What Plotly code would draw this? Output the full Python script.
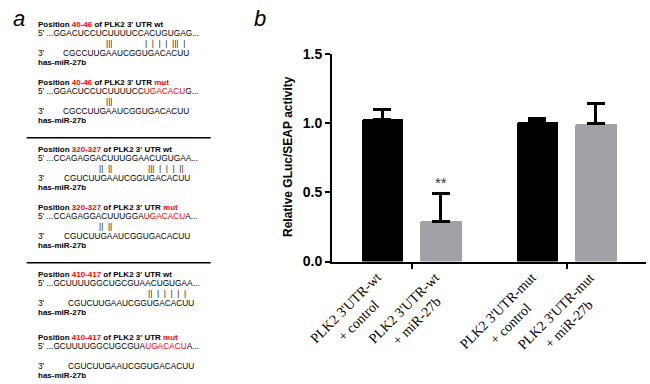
import plotly.graph_objects as go

# ---------------- data (panel b) ----------------
groups = ["wt", "mut"]
conditions = ["control", "miR-27b"]
control_labels = ["PLK2 3'UTR-wt<br>+ control", "PLK2 3'UTR-mut<br>+ control"]
mir_labels = ["PLK2 3'UTR-wt<br>+ miR-27b", "PLK2 3'UTR-mut<br>+ miR-27b"]
control_values = [1.03, 1.01]
control_errors = [0.07, 0.025]
mir_values = [0.29, 0.995]
mir_errors = [0.20, 0.148]
significance = ["**", ""]          # marks above the miR-27b bars
y_ticks = [0.0, 0.5, 1.0, 1.5]

# ---------------- data (panel a) ----------------
positions = ["40-46", "320-327", "410-417"]
wt_sequences = ["GGACUCCUCUUUUCCACUGUGAG", "CCAGAGGACUUUGGAACUGUGAA", "GCUUUUGGCUGCGUAACUGUGAA"]
mut_prefix = ["GGACUCCUCUUUUCC", "CCAGAGGACUUUGGA", "GCUUUUGGCUGCGUA"]
mut_site = ["UGACACU", "UGACACU", "UGACACU"]
mut_suffix = ["G", "A", "A"]
mir_sequences = ["CGCCUUGAAUCGGUGACACUU", "CGUCUUGAAUCGGUGACACUU", "CGUCUUGAAUCGGUGACACUU"]
wt_pairs = [["|||", "|  |  |  |  |||  |"], ["||  ||", "|||  |  |  |  ||"], ["", "||  |  |  |  |  |"]]
mut_pairs = [["|||", ""], ["||  ||", ""], ["", ""]]
mir_name = "has-miR-27b"

# ---------------- layout helpers ----------------
W, H = 650, 384
def px(x):
    return x / W
def py(y):
    return 1 - y / H

FONT = "Arial, Liberation Sans, sans-serif"
SERIF = "Times New Roman, Liberation Serif, serif"
RED = "#ff0000"

fig = go.Figure()

offset = 0.1887
bar_w = 0.268
x_ctrl = [i - offset for i in range(len(groups))]
x_mir = [i + offset for i in range(len(groups))]

fig.add_bar(x=x_ctrl, y=control_values, width=bar_w, name=conditions[0],
            marker=dict(color="#000000", line=dict(width=0), cornerradius=2),
            error_y=dict(type="data", symmetric=False, array=control_errors,
                         arrayminus=[0] * len(control_errors),
                         color="black", thickness=3, width=9))
fig.add_bar(x=x_mir, y=mir_values, width=bar_w, name=conditions[1],
            marker=dict(color="#a2a2a6", line=dict(width=0), cornerradius=2),
            error_y=dict(type="data", symmetric=False, array=mir_errors,
                         arrayminus=[0] * len(mir_errors),
                         color="black", thickness=3, width=9))

annotations = []
for xv, v, e, s in zip(x_mir, mir_values, mir_errors, significance):
    if s:
        annotations.append(dict(x=xv, y=v + e, xref="x", yref="y", text=s,
                                showarrow=False, yanchor="bottom", yshift=1,
                                font=dict(family=FONT, size=15, color="#333333")))

# rotated category labels under each bar
for xs, labs in [(x_ctrl, control_labels), (x_mir, mir_labels)]:
    for xv, lab in zip(xs, labs):
        annotations.append(dict(x=xv, y=0, xref="x", yref="y", text=lab, textangle=-45,
                                showarrow=False, xanchor="right", yanchor="top",
                                align="center", xshift=17, yshift=-6,
                                font=dict(family=SERIF, size=14, color="black")))

# y-axis title
annotations.append(dict(x=px(288), y=py(157), xref="paper", yref="paper",
                        text="<b>Relative GLuc/SEAP activity</b>", textangle=-90,
                        showarrow=False, font=dict(family=FONT, size=12, color="black")))
# panel letters
annotations.append(dict(x=px(11), y=py(4), xref="paper", yref="paper", text="<i>a</i>",
                        showarrow=False, font=dict(family=FONT, size=22, color="black")))
annotations.append(dict(x=px(260), y=py(4), xref="paper", yref="paper", text="<i>b</i>",
                        showarrow=False, font=dict(family=FONT, size=22, color="black")))

# panel a text blocks
block_top = [24.3, 149.3, 274.3]
mut_gap = [57.4, 57.4, 63.0]
mir_x = [61.7, 63.0, 66.7]
pair_x = [[105, 144], [98, 147], [105, 147]]
LX = 36.7
seq_size = 8.3
hdr_size = 8

def txt(x, y, s, size=seq_size, color="black"):
    annotations.append(dict(x=px(x), y=py(y), xref="paper", yref="paper", text=s,
                            showarrow=False, xanchor="left", yanchor="middle",
                            height=8, borderpad=0,
                            font=dict(family=FONT, size=size, color=color)))

for b in range(3):
    for k, kind in enumerate(["wt", "mut"]):
        y0 = block_top[b] + (mut_gap[b] if kind == "mut" else 0)
        label = "wt" if kind == "wt" else f"<span style='color:{RED}'>mut</span>"
        txt(LX, y0, f"<b>Position <span style='color:{RED}'>{positions[b]}</span> of PLK2 3' UTR {label}</b>", hdr_size)
        if kind == "wt":
            seq = f"5' ...{wt_sequences[b]}..."
            pairs = wt_pairs[b]
        else:
            seq = (f"5' ...{mut_prefix[b]}<span style='color:{RED}'>{mut_site[b]}</span>"
                   f"{mut_suffix[b]}...")
            pairs = mut_pairs[b]
        txt(LX, y0 + 9, seq)
        for pxv, p in zip(pair_x[b], pairs):
            if p:
                txt(pxv, y0 + 19.8, p, color="#222222")
        txt(LX, y0 + 29, "3'")
        txt(mir_x[b], y0 + 29, mir_sequences[b])
        txt(LX, y0 + 38, f"<b>{mir_name}</b>", hdr_size)

shapes = []
for ysep in [137.7, 262.7]:
    shapes.append(dict(type="line", xref="paper", yref="paper", x0=px(26.7), x1=px(210.7),
                       y0=py(ysep), y1=py(ysep), line=dict(color="black", width=1.5)))

fig.update_layout(
    width=W, height=H, template="none",
    margin=dict(l=0, r=0, t=0, b=0),
    paper_bgcolor="white", plot_bgcolor="white",
    showlegend=False, bargap=0,
    annotations=annotations, shapes=shapes,
    xaxis=dict(domain=[px(332), px(646)], range=[-0.514, 1.512],
               showticklabels=False, ticks="", showgrid=False, zeroline=False,
               showline=True, linecolor="black", linewidth=2, automargin=False,
               minor=dict(tickmode="array", tickvals=list(range(len(groups))),
                          ticks="outside", ticklen=5, tickwidth=2, tickcolor="black",
                          showgrid=False)),
    yaxis=dict(domain=[py(261.5), py(54)], range=[0, 1.5],
               tickmode="array", tickvals=y_ticks, tickformat=".1f",
               ticks="outside", ticklen=5, tickwidth=2, tickcolor="black",
               showgrid=False, zeroline=False, showline=True, linecolor="black",
               linewidth=2, automargin=False,
               tickfont=dict(family=FONT, size=14, color="black", weight="bold")),
)

fig.write_html("out.html", config={"displayModeBar": False},
               post_script="document.body.style.margin='0';")
